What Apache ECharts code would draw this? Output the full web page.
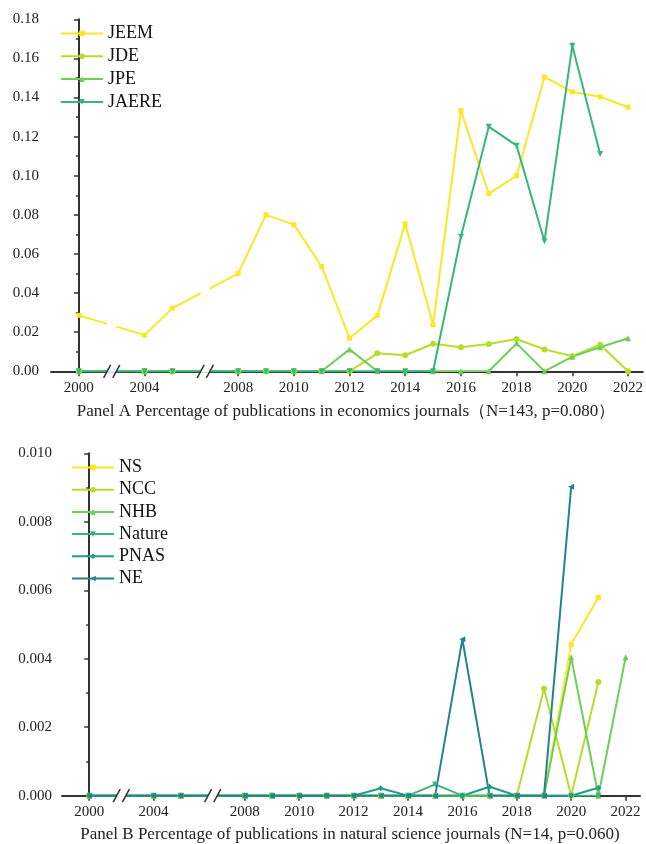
<!DOCTYPE html>
<html>
<head>
<meta charset="utf-8">
<script src="https://cdn.jsdelivr.net/npm/echarts@6/dist/echarts.min.js"></script>
<style>
  html, body { margin: 0; padding: 0; background: #fff; }
  #chart { width: 646px; height: 844px; }
</style>
</head>
<body>
<div id="chart"></div>
<script>
// Publication years (the x axis is broken between 2000–2004 and 2005–2008)
const years = [2000, 2004, 2005, 2008, 2009, 2010, 2011, 2012, 2013, 2014, 2015, 2016, 2017, 2018, 2019, 2020, 2021, 2022];
const tickYears = [2000, 2004, 2008, 2010, 2012, 2014, 2016, 2018, 2020, 2022];

// Panel A: economics journals
const jeem  = [0.0286, 0.0185, 0.0323, 0.0500, 0.0800, 0.0750, 0.0536, 0.0169, 0.0286, 0.0755, 0.0238, 0.1333, 0.0909, 0.1000, 0.1505, 0.1429, 0.1404, 0.1351];
const jde   = [0, 0, 0, 0, 0, 0, 0, 0, 0.0092, 0.0082, 0.0141, 0.0123, 0.0140, 0.0165, 0.0112, 0.0077, 0.0136, 0];
const jpe   = [0, 0, 0, 0, 0, 0, 0, 0.0112, 0, 0, 0, 0, 0, 0.0143, 0, 0.0075, 0.0123, 0.0169];
const jaere = [0, 0, 0, 0, 0, 0, 0, 0, 0, 0, 0, 0.0688, 0.1251, 0.1154, 0.0665, 0.1665, 0.1111, null];

// Panel B: natural science journals
const ns     = [0, 0, 0, 0, 0, 0, 0, 0, 0, 0, 0, 0, 0, 0, 0, 0.00442, 0.00579, null];
const ncc    = [0, 0, 0, 0, 0, 0, 0, 0, 0, 0, 0, 0, 0, 0, 0.00312, 0, 0.00332, null];
const nhb    = [0, 0, 0, 0, 0, 0, 0, 0, 0, 0, 0, 0, 0, 0, 0, 0.00404, 0, 0.00404];
const nature = [0, 0, 0, 0, 0, 0, 0, 0, 0, 0, 0.00033, 0, 0, 0, 0, 0, 0, null];
const pnas   = [0, 0, 0, 0, 0, 0, 0, 0, 0.00022, 0, 0, 0, 0.00026, 0, 0, 0, 0.00023, null];
const ne     = [0, 0, 0, 0, 0, 0, 0, 0, 0, 0, 0, 0.00457, 0, 0, 0, 0.00902, null, null];

const yTicksA = { min: 0, max: 0.18, interval: 0.02, digits: 2 };
const yTicksB = { min: 0, max: 0.010, interval: 0.002, digits: 3 };

const titleA = 'Panel A Percentage of publications in economics journals\uFF08N=143, p=0.080\uFF09';
const titleB = 'Panel B Percentage of publications in natural science journals (N=14, p=0.060)';

// Continuous year segments; a fixed gap is inserted between them on the axis
const segments = [[2000, 2000], [2004, 2005], [2008, 2022]];
const BREAK_GAP = 2.36;

function axisPos(year) {
  let offset = 0;
  for (let i = 0; i < segments.length; i++) {
    const [s, e] = segments[i];
    if (year >= s && year <= e) return offset + (year - s);
    offset += (e - s) + BREAK_GAP;
  }
  return NaN;
}
// Axis positions of the break centres (midway between adjacent segments)
const breakPositions = segments.slice(0, -1).map((seg, i) =>
  (axisPos(seg[1]) + axisPos(segments[i + 1][0])) / 2);

function yearLabel(v) {
  for (const y of tickYears) if (Math.abs(axisPos(y) - v) < 1e-6) return String(y);
  return '';
}

const FONT = '"Liberation Serif", "Times New Roman", serif';
const AXIS_COLOR = '#333';

const colors = {
  yellow: '#FDE725', lime: '#B5DE2B', green: '#6ECE58',
  mint: '#35B779', teal: '#1F9E89', blue: '#26828E'
};

function pairs(vals) {
  return years.map((y, i) => [axisPos(y), vals[i]]);
}

function xAxisFor(gridIndex) {
  const ticks = tickYears.map(axisPos);
  return {
    type: 'value', gridIndex, min: -1, max: 20.25,
    splitLine: { show: false },
    axisLine: { show: true, onZero: false, lineStyle: { color: AXIS_COLOR, width: 2 } },
    axisTick: { show: true, customValues: ticks, length: 5, lineStyle: { color: AXIS_COLOR, width: 1.5 } },
    axisLabel: {
      customValues: ticks, formatter: yearLabel, margin: 9,
      fontFamily: FONT, fontSize: 15, color: '#222'
    }
  };
}

function yAxisFor(gridIndex, t, margin) {
  return {
    type: 'value', gridIndex, min: t.min, max: t.max, interval: t.interval,
    splitLine: { show: false },
    axisLine: { show: true, lineStyle: { color: AXIS_COLOR, width: 2 } },
    axisTick: { show: true, length: 5, lineStyle: { color: AXIS_COLOR, width: 1.5 } },
    minorTick: { show: true, splitNumber: 2, length: 3, lineStyle: { color: AXIS_COLOR, width: 1.5 } },
    axisLabel: {
      margin, fontFamily: FONT, fontSize: 15, color: '#222',
      formatter: v => v.toFixed(t.digits)
    }
  };
}

function lineSeries(name, vals, color, symbol, gridIndex, rotate) {
  return {
    name, type: 'line', xAxisIndex: gridIndex, yAxisIndex: gridIndex,
    data: pairs(vals), color, z: 2,
    symbol, symbolSize: symbol === 'rect' ? 5 : 6, symbolRotate: rotate || 0,
    showSymbol: true, connectNulls: false,
    lineStyle: { width: 2, color },
    itemStyle: { color },
    emphasis: { disabled: true },
    animation: false
  };
}

const chart = echarts.init(document.getElementById('chart'), null, { renderer: 'canvas' });

const legendBase = {
  orient: 'vertical', z: 10,
  itemWidth: 42, itemHeight: 7,
  textStyle: { fontFamily: FONT, fontSize: 18, color: '#111', lineHeight: 18 },
  selectedMode: false
};

chart.setOption({
  backgroundColor: '#fff',
  animation: false,
  title: [
    { text: titleA, left: 341, top: 398, textAlign: 'center',
      textStyle: { fontFamily: FONT, fontSize: 17, fontWeight: 'normal', color: '#222' } },
    { text: titleB, left: 345, top: 821, textAlign: 'center',
      textStyle: { fontFamily: FONT, fontSize: 17, fontWeight: 'normal', color: '#222' } }
  ],
  grid: [
    { left: 51, right: 1, top: 19.3, bottom: 472.7 },
    { left: 62, right: 6, top: 453.3, bottom: 48.3 }
  ],
  legend: [
    Object.assign({}, legendBase, { data: ['JEEM', 'JDE', 'JPE', 'JAERE'], left: 55, top: 19.5, itemGap: 4.8 }),
    Object.assign({}, legendBase, { data: ['NS', 'NCC', 'NHB', 'Nature', 'PNAS', 'NE'], left: 66, top: 453.5, itemGap: 4.2 })
  ],
  xAxis: [xAxisFor(0), xAxisFor(1)],
  yAxis: [yAxisFor(0, yTicksA, 12), yAxisFor(1, yTicksB, 10)],
  series: [
    lineSeries('JEEM', jeem, colors.yellow, 'rect', 0),
    lineSeries('JDE', jde, colors.lime, 'circle', 0),
    lineSeries('JPE', jpe, colors.green, 'triangle', 0),
    lineSeries('JAERE', jaere, colors.mint, 'triangle', 0, 180),
    lineSeries('NS', ns, colors.yellow, 'rect', 1),
    lineSeries('NCC', ncc, colors.lime, 'circle', 1),
    lineSeries('NHB', nhb, colors.green, 'triangle', 1),
    lineSeries('Nature', nature, colors.mint, 'triangle', 1, 180),
    lineSeries('PNAS', pnas, colors.teal, 'diamond', 1),
    lineSeries('NE', ne, colors.blue, 'triangle', 1, 90)
  ]
});

// Axis-break decorations: a white gap through the plot (kept below the legend)
// and "//" marks on the axis
function breakGraphics() {
  const els = [];
  [0, 1].forEach(gi => {
    const yMaxVal = gi === 0 ? yTicksA.max : yTicksB.max;
    breakPositions.forEach(bp => {
      const base = chart.convertToPixel({ gridIndex: gi }, [bp, 0]);
      const top = chart.convertToPixel({ gridIndex: gi }, [bp, yMaxVal]);
      const cx = base[0], cy = base[1];
      const half = 4.6;
      els.push({
        type: 'rect', z: 5, silent: true,
        shape: { x: cx - half, y: top[1], width: half * 2, height: cy - top[1] + 1.5 },
        style: { fill: '#fff' }
      });
      [-half, half].forEach(dx => {
        els.push({
          type: 'line', z: 6, silent: true,
          shape: { x1: cx + dx - 3.5, y1: cy + 6.5, x2: cx + dx + 3.5, y2: cy - 6.5 },
          style: { stroke: AXIS_COLOR, lineWidth: 1.5 }
        });
      });
    });
  });
  return els;
}
chart.setOption({ graphic: breakGraphics() });
</script>
</body>
</html>
